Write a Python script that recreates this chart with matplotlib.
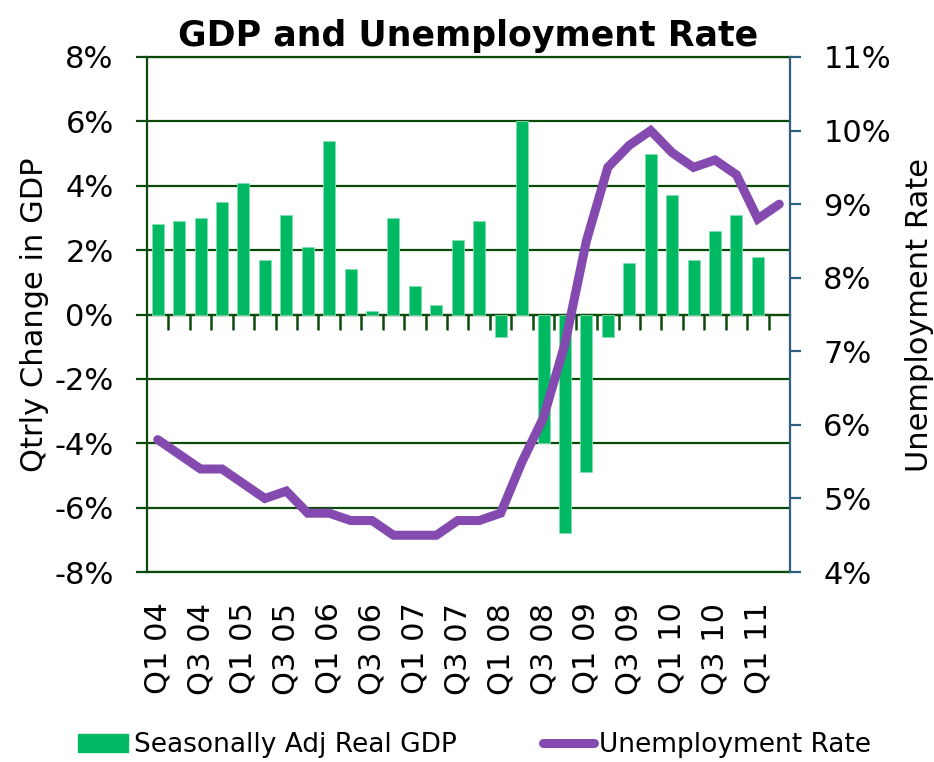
import matplotlib
matplotlib.use('Agg')
import matplotlib.pyplot as plt
import matplotlib.patches as mpatches
import matplotlib.lines as mlines
import numpy as np

# Quarter labels Q1 04 .. Q2 11
quarters = ['Q1 04', 'Q2 04', 'Q3 04', 'Q4 04',
            'Q1 05', 'Q2 05', 'Q3 05', 'Q4 05',
            'Q1 06', 'Q2 06', 'Q3 06', 'Q4 06',
            'Q1 07', 'Q2 07', 'Q3 07', 'Q4 07',
            'Q1 08', 'Q2 08', 'Q3 08', 'Q4 08',
            'Q1 09', 'Q2 09', 'Q3 09', 'Q4 09',
            'Q1 10', 'Q2 10', 'Q3 10', 'Q4 10',
            'Q1 11', 'Q2 11']

# Quarterly change in real GDP (%), last quarter not reported
gdp_change = [2.8, 2.9, 3.0, 3.5,
              4.1, 1.7, 3.1, 2.1,
              5.4, 1.4, 0.1, 3.0,
              0.9, 0.3, 2.3, 2.9,
              -0.7, 6.0, -4.0, -6.8,
              -4.9, -0.7, 1.6, 5.0,
              3.7, 1.7, 2.6, 3.1,
              1.8, np.nan]

# Unemployment rate (%)
unemployment = [5.8, 5.6, 5.4, 5.4,
                5.2, 5.0, 5.1, 4.8,
                4.8, 4.7, 4.7, 4.5,
                4.5, 4.5, 4.7, 4.7,
                4.8, 5.5, 6.1, 7.1,
                8.5, 9.5, 9.8, 10.0,
                9.7, 9.5, 9.6, 9.4,
                8.8, 9.0]

bar_color = '#00b962'
line_color = '#854ab0'
grid_color = '#0c4a0c'
right_color = '#2e5f80'

fig = plt.figure(figsize=(9.34, 7.62), dpi=100)
ax = fig.add_axes([0.1574, 0.2493, 0.6884, 0.6759])

x = np.arange(len(quarters))

# GDP bars on left axis
ax.bar(x, gdp_change, width=0.56, color=bar_color, edgecolor='#7fe0b0', linewidth=0.6, zorder=3)
ax.set_xlim(-0.5, len(quarters) - 0.5)
ax.set_ylim(-8, 8)
ax.set_yticks(np.arange(-8, 9, 2))
ax.set_yticklabels(['%d%%' % v for v in np.arange(-8, 9, 2)])
ax.yaxis.grid(True, color=grid_color, linewidth=1.6, zorder=1)
ax.set_axisbelow(True)
ax.tick_params(axis='y', direction='out', length=8, width=1.6, color=grid_color,
               labelsize=22, pad=16)

# labels every other quarter along the bottom
ax.set_xticks(x[::2])
ax.set_xticklabels(quarters[::2], rotation=90)
ax.tick_params(axis='x', length=0, labelsize=22, pad=22)

for side in ['left', 'bottom', 'top']:
    ax.spines[side].set_color(grid_color)
    ax.spines[side].set_linewidth(1.6)
ax.spines['right'].set_visible(False)

ax.set_ylabel('Qtrly Change in GDP', fontsize=22, labelpad=4)

# Category separator ticks on the zero line (pointing down)
zero_ax = ax.secondary_xaxis(0.5)
zero_ax.set_xticks(x[:-1] + 0.5)
zero_ax.set_xticklabels([])
zero_ax.tick_params(axis='x', direction='in', length=11, width=1.8, color=grid_color)
for sp in zero_ax.spines.values():
    sp.set_color(grid_color)
    sp.set_linewidth(1.6)

# Unemployment rate on right axis
ax2 = ax.twinx()
ax2.plot(x, unemployment, color=line_color, linewidth=6.5, solid_capstyle='round',
         solid_joinstyle='miter', zorder=4)
ax2.set_ylim(4, 11)
ax2.set_yticks(np.arange(4, 12, 1))
ax2.set_yticklabels(['%d%%' % v for v in np.arange(4, 12, 1)])
ax2.tick_params(axis='y', direction='out', length=8, width=1.6, color=right_color,
                labelsize=22, pad=16)
for side in ['left', 'bottom', 'top']:
    ax2.spines[side].set_visible(False)
ax2.spines['right'].set_color(right_color)
ax2.spines['right'].set_linewidth(1.6)
ax2.set_ylabel('Unemployment Rate', fontsize=22, labelpad=10)

ax.set_title('GDP and Unemployment Rate', fontsize=25, fontweight='bold', pad=8)

# Legend below
gdp_handle = mpatches.Patch(color=bar_color, label='Seasonally Adj Real GDP')
unemp_handle = mlines.Line2D([], [], color=line_color, linewidth=6.5,
                             solid_capstyle='round', label='Unemployment Rate')
fig.legend(handles=[gdp_handle, unemp_handle], loc='center',
           bbox_to_anchor=(0.508, 0.022), ncol=2, frameon=False, fontsize=19,
           handlelength=1.9, handletextpad=0.2, columnspacing=3.3)

plt.savefig('out.png', dpi=100)
